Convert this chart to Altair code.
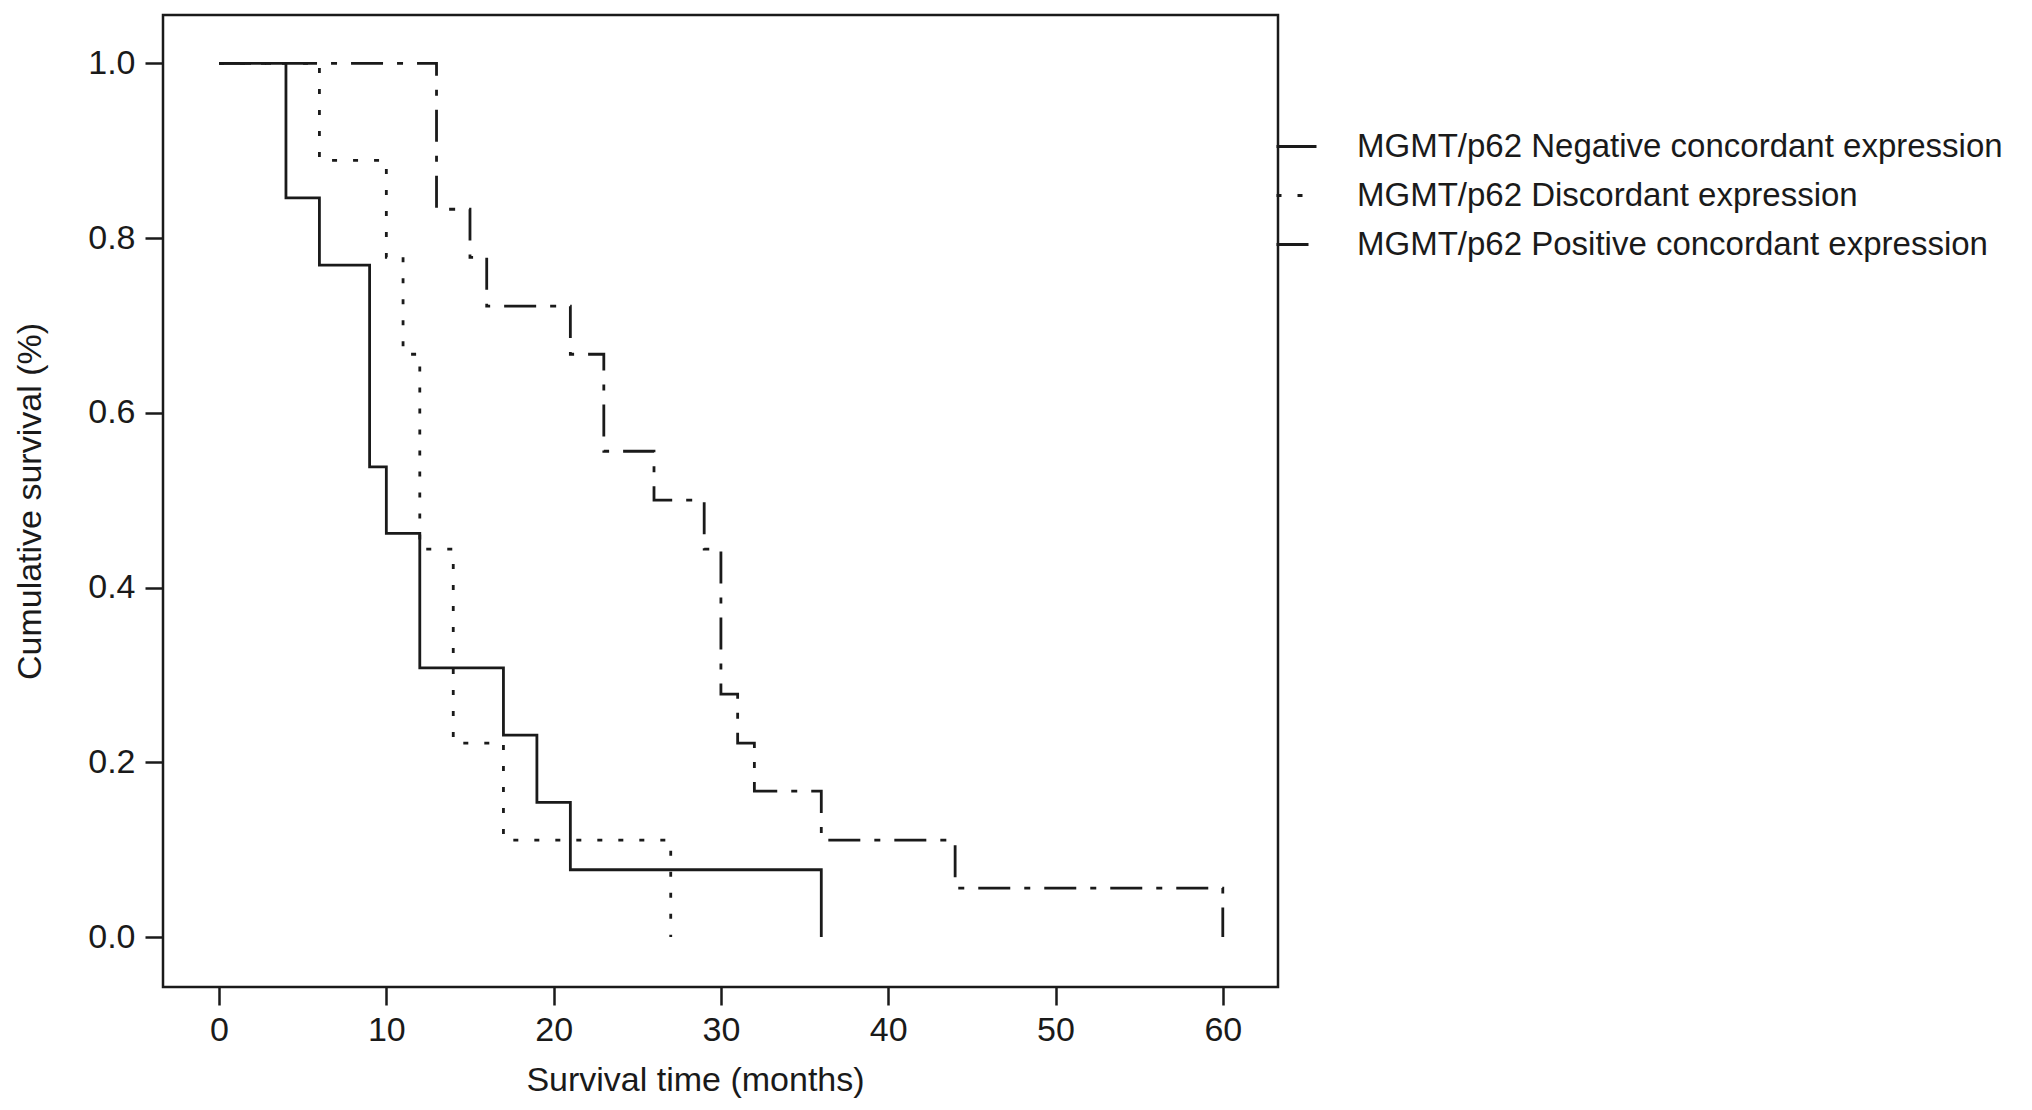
import altair as alt
import pandas as pd

groups = [
    "MGMT/p62 Negative concordant expression",
    "MGMT/p62 Discordant expression",
    "MGMT/p62 Positive concordant expression",
]

neg_time = [0, 4, 6, 9, 10, 12, 17, 19, 21, 36]
neg_surv = [1.0, 0.846, 0.769, 0.538, 0.462, 0.308, 0.231, 0.154, 0.077, 0.0]

dis_time = [0, 6, 10, 11, 12, 14, 17, 27]
dis_surv = [1.0, 0.889, 0.778, 0.667, 0.444, 0.222, 0.111, 0.0]

pos_time = [0, 13, 15, 16, 21, 23, 26, 29, 30, 31, 32, 36, 44, 60]
pos_surv = [1.0, 0.833, 0.778, 0.722, 0.667, 0.556, 0.5, 0.444, 0.278, 0.222,
            0.167, 0.111, 0.056, 0.0]

x_ticks = [0, 10, 20, 30, 40, 50, 60]
y_ticks = [0.0, 0.2, 0.4, 0.6, 0.8, 1.0]

rows = []
for g, ts, ss in zip(groups, [neg_time, dis_time, pos_time], [neg_surv, dis_surv, pos_surv]):
    for i, (t, s) in enumerate(zip(ts, ss)):
        rows.append({"group": g, "time": t, "surv": s, "idx": i})
df = pd.DataFrame(rows)

INK = "#1a1a1a"
FONT = "Liberation Sans"

chart = (
    alt.Chart(df)
    .mark_line(interpolate="step-after", strokeWidth=2.8, color=INK)
    .encode(
        x=alt.X(
            "time:Q",
            scale=alt.Scale(domain=[-3.35, 63.3], nice=False, zero=False),
            axis=alt.Axis(
                values=x_ticks,
                title="Survival time (months)",
                labelPadding=8,
                titleX=532,
                titleY=103,
                titleBaseline="alphabetic",
                titleAlign="center",
            ),
        ),
        y=alt.Y(
            "surv:Q",
            scale=alt.Scale(domain=[-0.0572, 1.0553], nice=False, zero=False),
            axis=alt.Axis(
                values=y_ticks,
                format=".1f",
                title="Cumulative survival (%)",
                labelPadding=10,
                titleX=-123,
                titleY=486,
                titleAngle=270,
                titleBaseline="alphabetic",
                titleAlign="center",
            ),
        ),
        strokeDash=alt.StrokeDash(
            "group:N",
            scale=alt.Scale(domain=groups, range=[[1, 0], [5, 16], [32, 14, 6, 14]]),
            legend=alt.Legend(
                title=None,
                orient="none",
                legendX=1112,
                legendY=110,
                symbolType="stroke",
                symbolSize=1600,
                symbolStrokeWidth=2.8,
                symbolStrokeColor=INK,
                labelFontSize=33,
                labelFont=FONT,
                labelColor=INK,
                labelOffset=39,
                rowPadding=10,
                padding=0,
                labelLimit=0,
            ),
        ),
        order=alt.Order("idx:Q"),
    )
    .properties(
        width=1115,
        height=972,
        autosize="none",
        padding={"left": 155, "top": 7, "right": 744, "bottom": 115},
        background="white",
    )
    .configure_view(stroke=INK, strokeWidth=2.5)
    .configure_axis(
        grid=False,
        domain=False,
        tickColor=INK,
        tickWidth=2.5,
        tickSize=18,
        labelFont=FONT,
        labelFontSize=34,
        labelColor=INK,
        titleFont=FONT,
        titleFontSize=34,
        titleFontWeight="normal",
        titleColor=INK,
    )
)

chart.save("out.html", embed_options={"renderer": "svg", "actions": False})
